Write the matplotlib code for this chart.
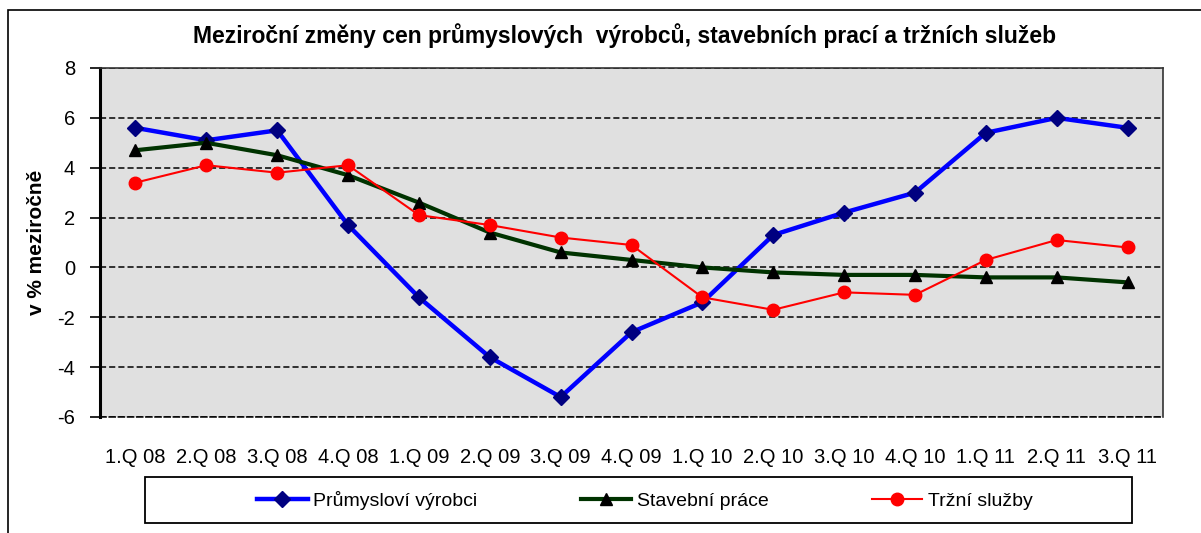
"""
Meziroční změny cen průmyslových výrobců, stavebních prací a tržních služeb.
"""

import matplotlib.pyplot as plt
from matplotlib.patches import Rectangle

plt.rcParams['font.family'] = ['Liberation Sans', 'DejaVu Sans']
plt.rcParams['axes.unicode_minus'] = False

# Quarters on the x axis
quarters = ['1.Q 08', '2.Q 08', '3.Q 08', '4.Q 08',
            '1.Q 09', '2.Q 09', '3.Q 09', '4.Q 09',
            '1.Q 10', '2.Q 10', '3.Q 10', '4.Q 10',
            '1.Q 11', '2.Q 11', '3.Q 11']

# Year-on-year changes in %
prumysl = [5.6, 5.1, 5.5, 1.7, -1.2, -3.6, -5.2, -2.6, -1.4, 1.3, 2.2, 3.0, 5.4, 6.0, 5.6]
stavby = [4.7, 5.0, 4.5, 3.7, 2.6, 1.4, 0.6, 0.3, 0.0, -0.2, -0.3, -0.3, -0.4, -0.4, -0.6]
sluzby = [3.4, 4.1, 3.8, 4.1, 2.1, 1.7, 1.2, 0.9, -1.2, -1.7, -1.0, -1.1, 0.3, 1.1, 0.8]

y_ticks = [-6, -4, -2, 0, 2, 4, 6, 8]

fig = plt.figure(figsize=(12.01, 5.33), dpi=100)
# axes box in pixels: x 100..1163, y 68..417
ax = fig.add_axes([100 / 1201, 1 - 417 / 533, 1063 / 1201, 349 / 533])
ax.set_facecolor('#e0e0e0')

x = list(range(len(quarters)))
ax.plot(x, prumysl, color='#0000ff', lw=3.2, marker='D', ms=8,
        mfc='#000080', mec='#000080', label='Průmysloví výrobci', zorder=3)
ax.plot(x, stavby, color='#003300', lw=3, marker='^', ms=9,
        mfc='black', mec='black', label='Stavební práce', zorder=4)
ax.plot(x, sluzby, color='#ff0000', lw=1.5, marker='o', ms=9,
        mfc='#ff0000', mec='#ff0000', label='Tržní služby', zorder=5)

ax.set_xlim(-0.5, len(quarters) - 0.5)
ax.set_ylim(-6, 8)
ax.set_yticks(y_ticks)
ax.set_xticks(x)
ax.set_xticklabels(quarters)
ax.tick_params(axis='x', length=0, pad=22, labelsize=14.5)
ax.tick_params(axis='y', length=7, width=1.2, direction='out', labelsize=14.5, pad=11)
ax.yaxis.grid(True, color='black', ls=(0, (4, 2)), lw=1.1)
ax.set_axisbelow(True)

ax.spines['left'].set_linewidth(2.2)
ax.spines['left'].set_color('black')
ax.spines['bottom'].set_linewidth(1.1)
ax.spines['bottom'].set_linestyle((0, (4, 2)))
for s in ('top', 'right'):
    ax.spines[s].set_linewidth(1.2)
    ax.spines[s].set_color('#333333')

ax.set_ylabel('v % meziročně', fontsize=15, fontweight='bold')
ax.yaxis.set_label_coords((46 - 100) / 1063, 0.5)

fig.text(625 / 1201, 1 - 36 / 533,
         'Meziroční změny cen průmyslových  výrobců, stavebních prací a tržních služeb',
         ha='center', va='center', fontsize=16.5, fontweight='bold')

# legend: entries centred, box drawn separately
leg = fig.legend(loc='center', bbox_to_anchor=(645 / 1201, 1 - 500 / 533),
                 ncol=3, frameon=False, fontsize=14,
                 handlelength=2.6, handletextpad=0.3, columnspacing=5.3,
                 borderaxespad=0, borderpad=0)
fig.patches.append(Rectangle((145 / 1201, 1 - 523 / 533), 987 / 1201, 46 / 533,
                             transform=fig.transFigure, fill=False,
                             edgecolor='black', lw=1.3))

# outer chart frame (cut off on the right and bottom)
fig.patches.append(Rectangle((8 / 1201, -0.05), 1.1, 1 - 10 / 533 + 0.05,
                             transform=fig.transFigure, fill=False,
                             edgecolor='black', lw=1.2))

fig.savefig('out.png', dpi=100)
